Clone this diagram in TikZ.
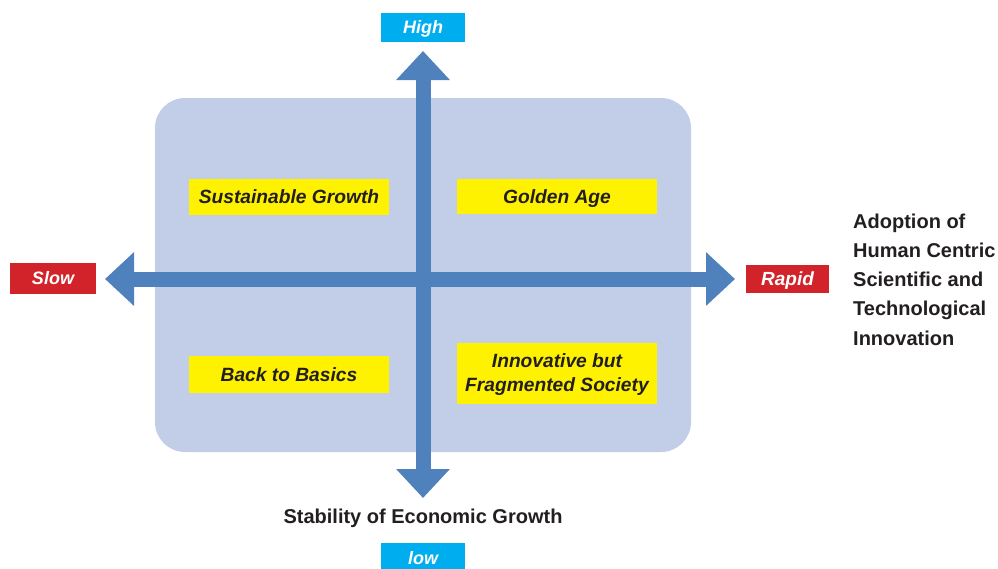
\documentclass[tikz,border=0pt]{standalone}
\usepackage{fontspec}
\setmainfont{Liberation Sans}
\usetikzlibrary{arrows.meta}
\definecolor{panel}{RGB}{194,205,232}
\definecolor{arrowblue}{RGB}{79,129,189}
\definecolor{cyanbox}{RGB}{0,174,239}
\definecolor{redbox}{RGB}{210,35,42}
\definecolor{yellowbox}{RGB}{255,242,0}
\definecolor{ink}{RGB}{35,31,32}
\begin{document}
\begin{tikzpicture}[x=1pt,y=-1pt,
  endlabel/.style={text height=12.9pt,text depth=0pt,inner sep=0pt,text=white,font=\fontsize{18}{20}\selectfont\bfseries\itshape},
  quad/.style={text height=13.75pt,text depth=0pt,fill=yellowbox,inner sep=0pt,text=ink,align=center,font=\fontsize{19.2}{24}\selectfont\bfseries\itshape},
  axistext/.style={text height=14.3pt,text depth=0pt,text=ink,inner sep=0pt,font=\fontsize{20}{29.3}\selectfont\bfseries},
  bigarrow/.style={draw=arrowblue,line width=15pt,
    {Triangle[width=52pt,length=29pt]}-{Triangle[width=52pt,length=29pt]},color=arrowblue}]
\useasboundingbox (0,0) rectangle (998,568);
\fill[white] (0,0) rectangle (998,568);
% panel
\fill[panel,rounded corners=30pt] (155,98) rectangle (691,452);
% quadrant labels
\node[quad,minimum width=200pt,minimum height=36pt] (sg) at (289,197) {Sustainable Growth};
\node[quad,minimum width=200pt,minimum height=35pt] (ga) at (557,196.5) {Golden Age};
\node[quad,minimum width=200pt,minimum height=37pt] (bb) at (289,374.5) {Back to Basics};
\node[quad,text height=37.75pt,minimum width=200pt,minimum height=61pt] (if) at (557,373) {Innovative but\\Fragmented Society};
% arrows
\coordinate (top) at (423,51);
\coordinate (bot) at (423,498);
\coordinate (lft) at (105,279);
\coordinate (rgt) at (735,279);
\draw[bigarrow] (lft) -- (rgt);
\draw[bigarrow] (bot) -- (top);
% end labels
\node[endlabel,fill=cyanbox,minimum width=84pt,minimum height=29pt] (high) at (423,27.5) {High};
\node[endlabel,fill=cyanbox,minimum width=84pt,minimum height=30pt] (low) at (423,558) {low};
\node[endlabel,fill=redbox,minimum width=86pt,minimum height=31pt] (slow) at (53,278.5) {Slow};
\node[endlabel,fill=redbox,minimum width=83pt,minimum height=28pt,font=\fontsize{19}{20}\selectfont\bfseries\itshape] (rapid) at (787.5,279) {Rapid};
% axis titles
\node[axistext,text height=131.5pt,anchor=west,align=left] (xt) at (853,279.5) {Adoption of\\Human Centric\\Scientific and\\Technological\\Innovation};
\node[axistext] (yt) at (423,516) {Stability of Economic Growth};
\end{tikzpicture}
\end{document}
